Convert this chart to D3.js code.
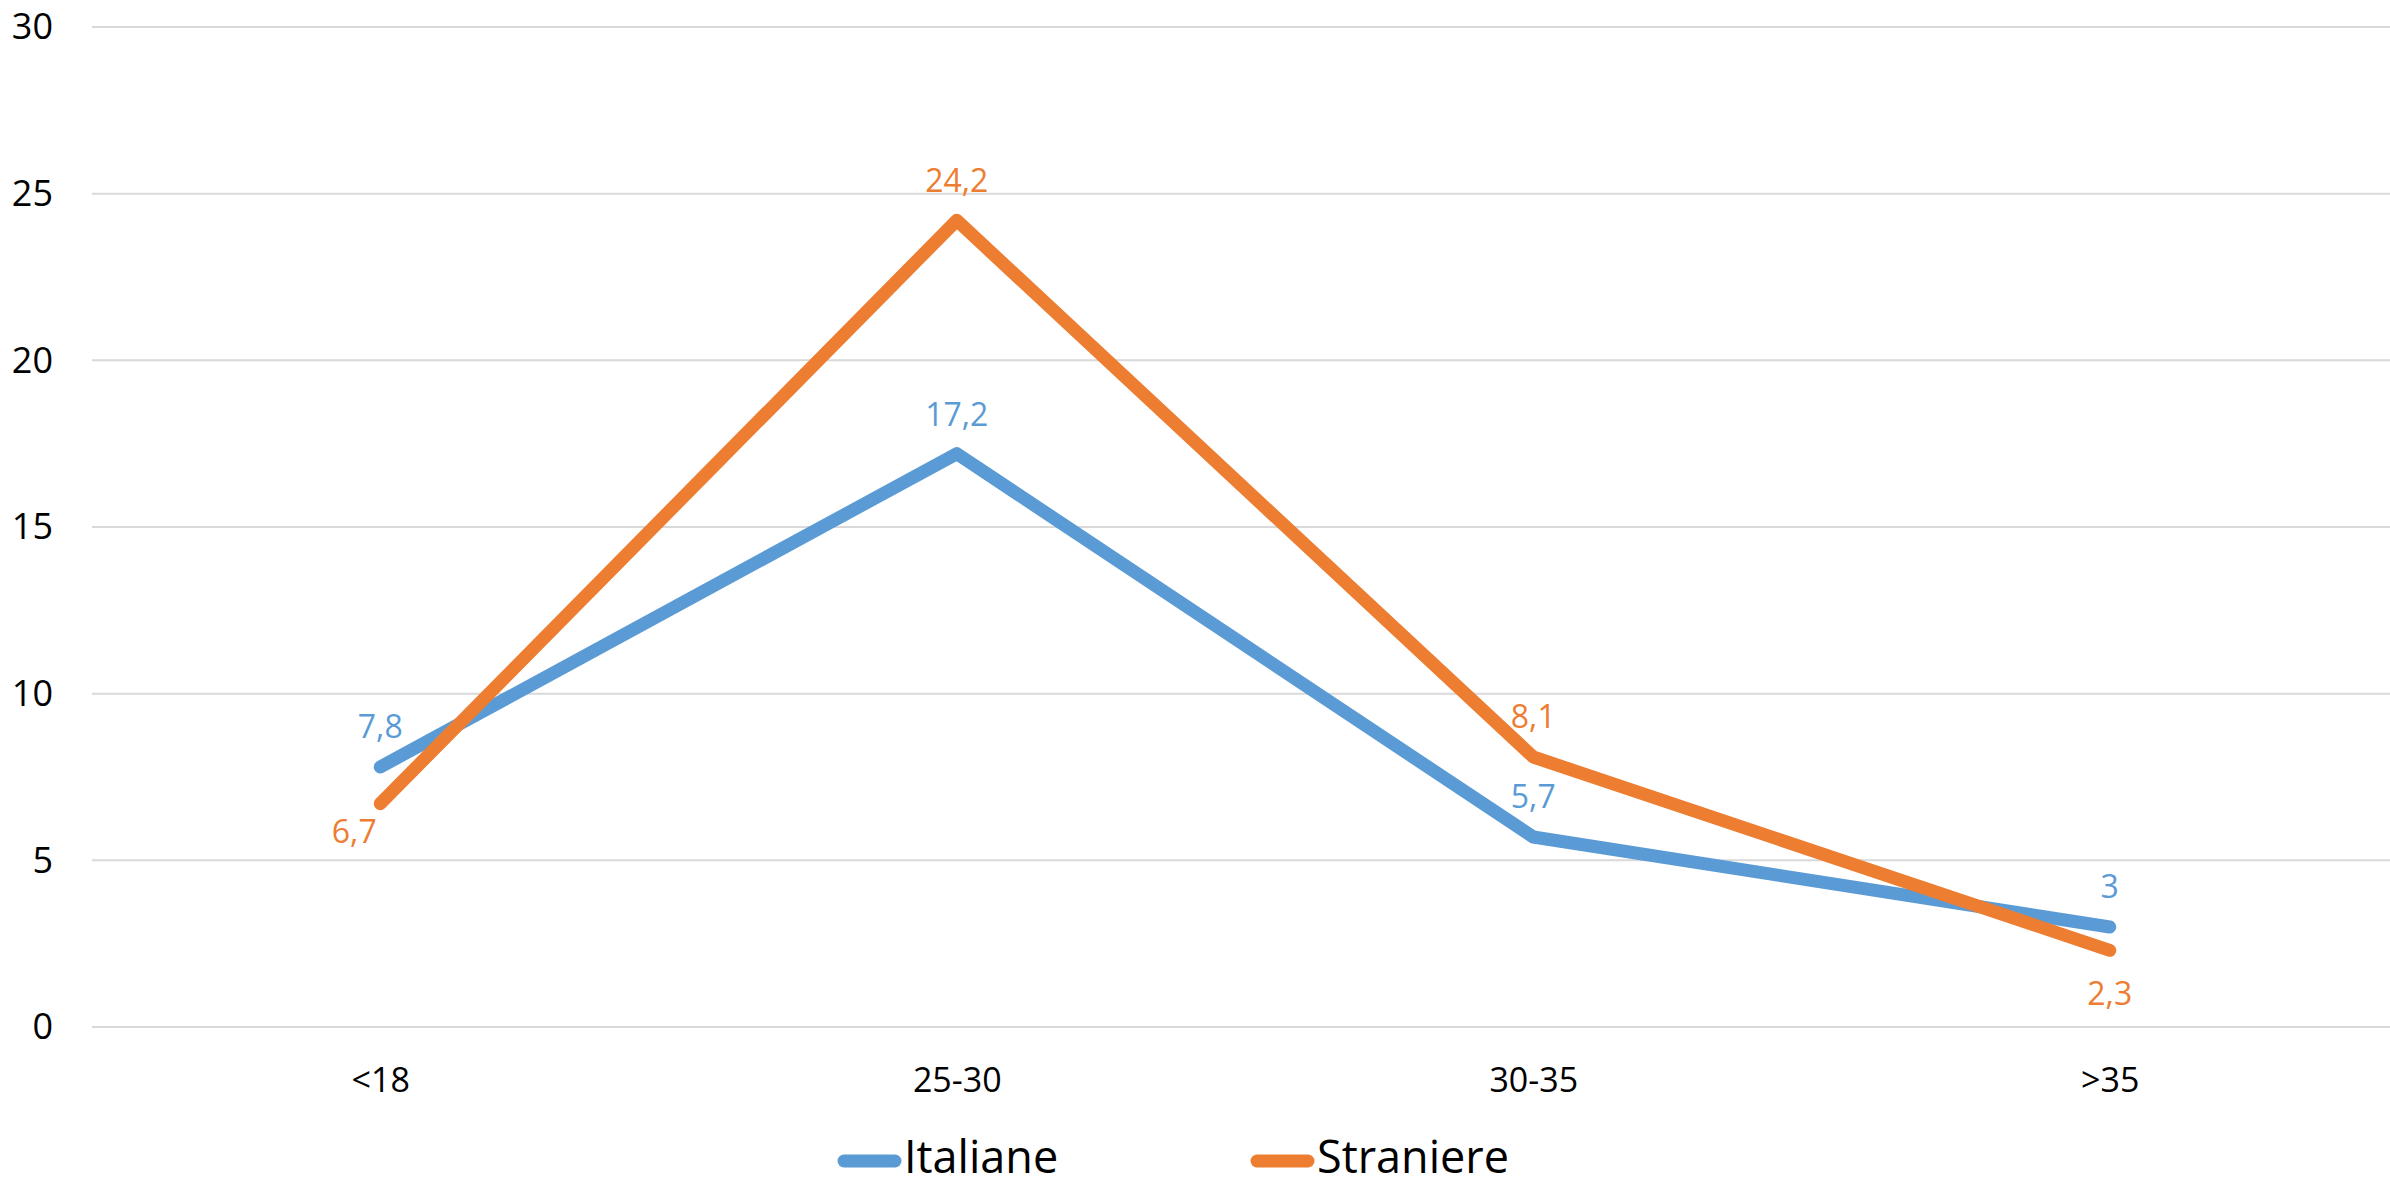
<!DOCTYPE html>
<html>
<head>
<meta charset="utf-8">
<script src="https://cdn.jsdelivr.net/npm/d3@7"></script>
<style>
  html, body { margin: 0; padding: 0; background: #fff; }
  svg { display: block; }
  text { font-family: "Open Sans", "Noto Sans", sans-serif; }
</style>
</head>
<body>
<svg id="chart" width="2390" height="1186"></svg>
<script>
// Age groups and percentages per group
const categories = ["<18", "25-30", "30-35", ">35"];
const italiane = [7.8, 17.2, 5.7, 3];
const straniere = [6.7, 24.2, 8.1, 2.3];
const yTicks = [0, 5, 10, 15, 20, 25, 30];
const seriesNames = ["Italiane", "Straniere"];

const colors = { Italiane: "#5B9BD5", Straniere: "#ED7D31" };

const svg = d3.select("#chart");
const W = 2390;

const x = d3.scalePoint().domain(categories).range([92, 2398]).padding(0.5);
const y = d3.scaleLinear().domain([0, 30]).range([1027, 27]);

// horizontal gridlines
svg.append("g")
  .selectAll("line")
  .data(yTicks)
  .join("line")
  .attr("x1", 92).attr("x2", W)
  .attr("y1", d => y(d)).attr("y2", d => y(d))
  .attr("stroke", "#D9D9D9").attr("stroke-width", 2);

// y axis labels
const yAxis = d3.axisLeft(y).tickValues(yTicks).tickSize(0).tickPadding(0).tickFormat(d3.format("d"));
svg.append("g")
  .attr("transform", "translate(53,0)")
  .call(yAxis)
  .call(g => g.select(".domain").remove())
  .call(g => g.selectAll("text")
    .attr("font-size", 36)
    .attr("fill", "#000")
    .attr("font-family", "'Open Sans', 'Noto Sans', sans-serif")
    .attr("dy", "0.33em"));

// x axis labels
const xAxis = d3.axisBottom(x).tickSize(0).tickPadding(0);
svg.append("g")
  .attr("transform", "translate(0,1092)")
  .call(xAxis)
  .call(g => g.select(".domain").remove())
  .call(g => g.selectAll("text")
    .attr("font-size", 34)
    .attr("fill", "#000")
    .attr("font-family", "'Open Sans', 'Noto Sans', sans-serif")
    .attr("dy", 0)
    .attr("y", 0));

const series = [
  { name: "Italiane", values: italiane },
  { name: "Straniere", values: straniere }
];

const line = d3.line()
  .x((d, i) => x(categories[i]))
  .y(d => y(d));

svg.append("g")
  .selectAll("path")
  .data(series)
  .join("path")
  .attr("d", s => line(s.values))
  .attr("fill", "none")
  .attr("stroke", s => colors[s.name])
  .attr("stroke-width", 13)
  .attr("stroke-linecap", "round")
  .attr("stroke-linejoin", "round");

// data label placement: baseline offset from the point
const labelOffsets = {
  Italiane: [[0, -29], [0, -28], [0, -29], [0, -29]],
  Straniere: [[-26, 39], [0, -28], [0, -29], [0, 55]]
};
const fmt = v => String(v).replace(".", ",");

series.forEach(s => {
  svg.append("g")
    .selectAll("text")
    .data(s.values)
    .join("text")
    .attr("x", (d, i) => x(categories[i]) + labelOffsets[s.name][i][0])
    .attr("y", (d, i) => y(d) + labelOffsets[s.name][i][1])
    .attr("text-anchor", "middle")
    .attr("font-size", 32)
    .attr("fill", colors[s.name])
    .text(d => fmt(d));
});

// legend
const legendX = { Italiane: 838, Straniere: 1251 };
const legend = svg.append("g");
seriesNames.forEach(n => {
  legend.append("line")
    .attr("x1", legendX[n] + 6).attr("x2", legendX[n] + 57)
    .attr("y1", 1161).attr("y2", 1161)
    .attr("stroke", colors[n]).attr("stroke-width", 13)
    .attr("stroke-linecap", "round");
  legend.append("text")
    .attr("x", legendX[n] + 66)
    .attr("y", 1173)
    .attr("font-size", 45)
    .attr("fill", "#000")
    .text(n);
});
</script>
</body>
</html>
